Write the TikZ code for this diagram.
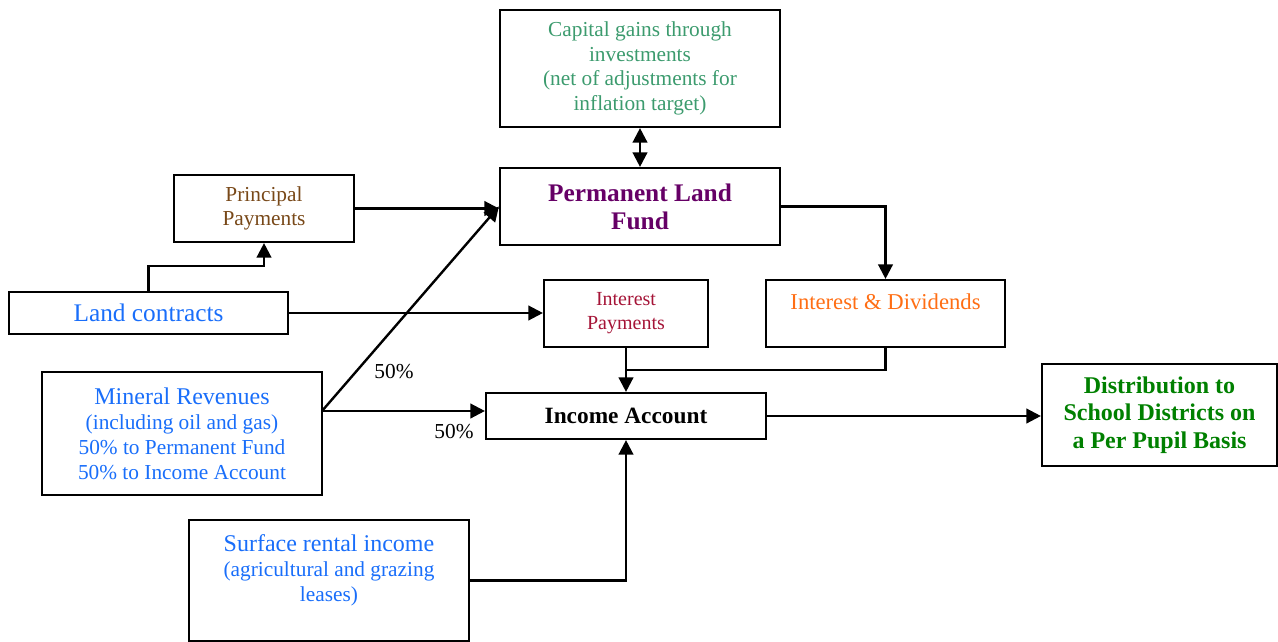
\documentclass[tikz,border=0pt]{standalone}
\usepackage{fontspec}
\setmainfont{Liberation Serif}
\usepackage{xcolor}
\usetikzlibrary{arrows.meta,calc}

\definecolor{capgreen}{RGB}{60,155,110}
\definecolor{fundpurple}{RGB}{102,0,102}
\definecolor{princbrown}{RGB}{120,72,24}
\definecolor{landblue}{RGB}{25,110,250}
\definecolor{intred}{RGB}{165,20,55}
\definecolor{divorange}{RGB}{255,110,20}
\definecolor{distgreen}{RGB}{0,128,0}

\begin{document}
\begin{tikzpicture}[x=0.75pt,y=0.75pt,yscale=-1,xscale=1,
  box/.style={draw, line width=1.6pt, inner sep=0pt, align=center},
  flow/.style={line width=1.8pt, -{Triangle[length=11pt,width=11pt]}},
  link/.style={line width=1.8pt},
  pct/.style={inner sep=0pt, font=\fontsize{16}{18}\selectfont}]
\useasboundingbox (0,0) rectangle (1278,642);
%Boxes
\node[box, minimum width=210pt, minimum height=87.75pt, text=capgreen, font=\fontsize{16}{18.4}\selectfont] (cap) at (640,68.5) {Capital gains through\\investments\\(net of adjustments for\\inflation target)};
\node[box, minimum width=210pt, minimum height=57.75pt, text=fundpurple, font=\fontsize{19}{21}\selectfont\bfseries] (plf) at (640,206.5) {Permanent Land\\Fund};
\node[box, minimum width=135pt, minimum height=50.25pt, text=princbrown, font=\fontsize{16}{18}\selectfont] (princ) at (264,208.5) {Principal\\Payments};
\node[box, minimum width=209.25pt, minimum height=31.5pt, text=landblue, font=\fontsize{19}{21}\selectfont] (land) at (148.5,313) {Land contracts};
\node[box, minimum width=123pt, minimum height=50.25pt, text=intred, font=\fontsize{15}{18}\selectfont] (intpay) at (626,313.5) {Interest\\Payments};
\node[box, minimum width=179.25pt, minimum height=50.25pt] (intdiv) at (885.5,313.5) {};
\node[box, minimum width=210pt, minimum height=92.25pt, text=landblue, font=\fontsize{16}{18.75}\selectfont] (mineral) at (182,433.5) {{\fontsize{18}{18.75}\selectfont Mineral Revenues}\\(including oil and gas)\\50\% to Permanent Fund\\50\% to Income Account};
\node[box, minimum width=210pt, minimum height=34.5pt, font=\fontsize{17.5}{20}\selectfont\bfseries] (income) at (626,416) {Income Account};
\node[box, minimum width=176.25pt, minimum height=76.5pt, text=distgreen, font=\fontsize{18}{20.6}\selectfont\bfseries] (distrib) at (1159.5,415) {Distribution to\\School Districts on\\a Per Pupil Basis};
\node[box, minimum width=210pt, minimum height=90.75pt] (surface) at (329,580.5) {};
% Text Node
\node[anchor=north, inner sep=0pt, text=divorange, font=\fontsize{17}{20}\selectfont] (intdivtxt) at ($(intdiv.north)+(0,15)$) {Interest \& Dividends};
% Text Node
\node[anchor=north, inner sep=0pt, align=center, text=landblue, font=\fontsize{16}{18.75}\selectfont] (surftxt) at ($(surface.north)+(0,15)$) {{\fontsize{18}{20}\selectfont Surface rental income}\\(agricultural and grazing\\leases)};
%Connectors
\draw[link, {Triangle[length=11pt,width=11pt]}-{Triangle[length=11pt,width=11pt]}] (cap.south) -- (plf.north);
\draw[flow] (princ.east) -- (princ.east -| plf.west);
\draw[flow] (land.north) -- ++(0,-25) -| (princ.south);
\draw[flow] (land.east) -- (land.east -| intpay.west);
\coordinate (mfork) at (322,411);
\draw[flow] (mfork) -- (plf.west);
\draw[flow] (mfork) -- (mfork -| income.west);
\draw[flow] (plf.east) -| (intdiv.south |- intdiv.north);
\draw[flow] (intpay.south) -- (income.north);
\coordinate (join) at ($(intpay.south)!0.5!(income.north)$);
\draw[link] (intdiv.south) |- (join);
\draw[flow] (surface.east) -| (income.south);
\draw[flow] (income.east) -- (income.east -| distrib.west);
% Text Node
\node[pct] (pctfund) at (394,372) {50\%};
\node[pct] (pctincome) at (454,432) {50\%};
\end{tikzpicture}
\end{document}
